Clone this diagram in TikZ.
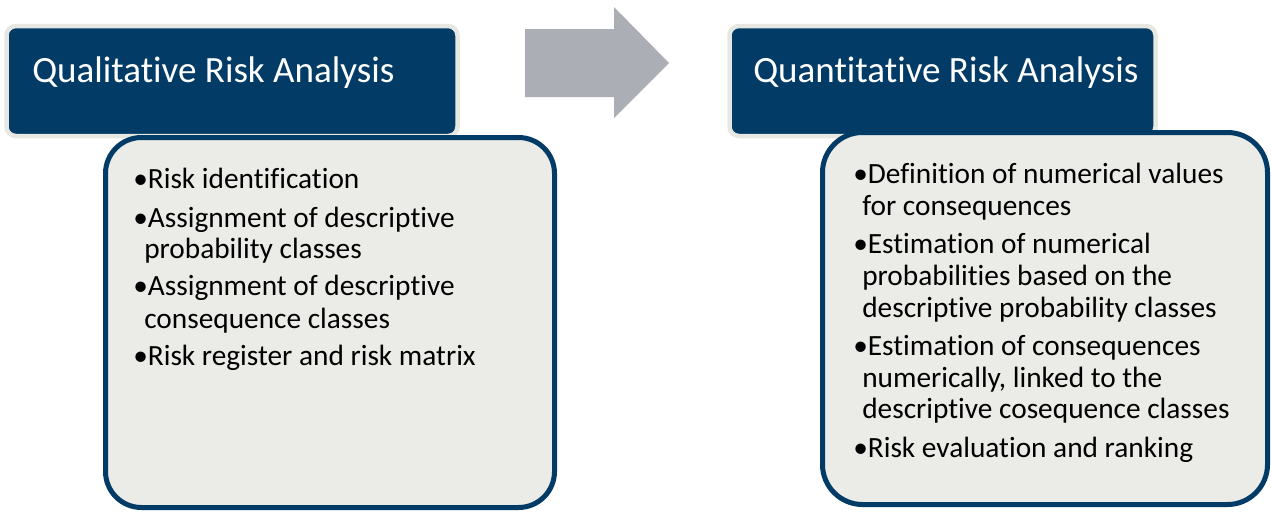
\documentclass[tikz,border=0pt]{standalone}
\usepackage{fontspec}
\setmainfont{Carlito}[Ligatures=CommonOff]
\definecolor{navy}{HTML}{013B66}
\definecolor{paleedge}{HTML}{E7E8E2}
\definecolor{bodyfill}{HTML}{EBEBE7}
\definecolor{arrowgray}{HTML}{ABAFB5}
\begin{document}
\begin{tikzpicture}[x=0.75pt,y=-0.75pt,
  titletext/.style={anchor=base west,inner sep=0,text=white,font=\fontsize{27.8}{32}\selectfont},
  itemtext/.style={anchor=base west,inner sep=0,text=black,font=\fontsize{22}{26}\selectfont},
  headbox/.style={fill=navy,draw=paleedge,line width=4.5pt*0.75,rounded corners=7pt},
  bodybox/.style={fill=bodyfill,draw=navy,line width=3.75pt,rounded corners=27pt}]
\useasboundingbox[fill=white] (0,0) rectangle (1271,511);
% headers
\draw[headbox] (6.5,26) rectangle (457.5,136);
\draw[headbox] (729.5,26) rectangle (1155.5,136);
\node[titletext] (t1) at (32,82) {Qualitative Risk Analysis};
\node[titletext] (t2) at (753,82) {Quantitative Risk Analysis};
% bodies
\draw[bodybox] (105.5,137.5) rectangle (554.5,507.5);
\draw[bodybox,rounded corners=30pt] (822.5,132.5) rectangle (1267.5,504.5);
% arrow
\fill[arrowgray] (525,29) -- (614,29) -- (614,7) -- (669,63) -- (614,118) -- (614,97) -- (525,97) -- cycle;
% left items
\node[itemtext] (l1) at (133,188) {•Risk identification};
\node[itemtext] (l2) at (133,227) {•Assignment of descriptive};
\node[itemtext] (l3) at (144,258) {probability classes};
\node[itemtext] (l4) at (133,295) {•Assignment of descriptive};
\node[itemtext] (l5) at (144,328) {consequence classes};
\node[itemtext] (l6) at (133,365) {•Risk register and risk matrix};
% right items
\node[itemtext] (r1) at (853,183) {•Definition of numerical values};
\node[itemtext] (r2) at (862,215) {for consequences};
\node[itemtext] (r3) at (853,253) {•Estimation of numerical};
\node[itemtext] (r4) at (862,285) {probabilities based on the};
\node[itemtext] (r5) at (862,317) {descriptive probability classes};
\node[itemtext] (r6) at (853,355) {•Estimation of consequences};
\node[itemtext] (r7) at (862,387) {numerically, linked to the};
\node[itemtext] (r8) at (862,418) {descriptive cosequence classes};
\node[itemtext] (r9) at (853,457) {•Risk evaluation and ranking};
\end{tikzpicture}
\end{document}
